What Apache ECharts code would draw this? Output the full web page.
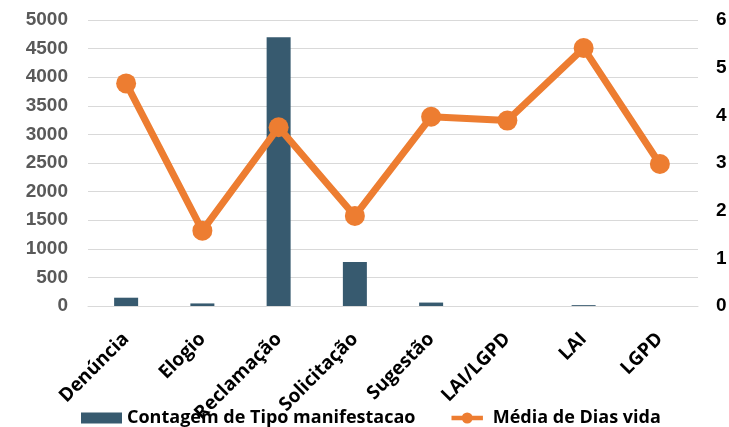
<!DOCTYPE html>
<html>
<head>
<meta charset="utf-8">
<script src="https://cdn.jsdelivr.net/npm/echarts@6/dist/echarts.min.js"></script>
<style>html,body{margin:0;padding:0;background:#fff}#c{width:729px;height:427px}</style>
</head>
<body>
<div id="c"></div>
<script>
const categories = ['Denúncia','Elogio','Reclamação','Solicitação','Sugestão','LAI/LGPD','LAI','LGPD'];
const contagem = [145, 45, 4700, 770, 60, 0, 15, 0];
const mediaDias = [4.67, 1.58, 3.75, 1.89, 3.97, 3.89, 5.41, 2.98];
const leftTicks = {min: 0, max: 5000, interval: 500};
const rightTicks = {min: 0, max: 6, interval: 1};

const lineIcon = 'path://M0,3H40V9H0Z M13,6A7,7 0 1,1 27,6A7,7 0 1,1 13,6Z';

const chart = echarts.init(document.getElementById('c'));
chart.setOption({
  animation: false,
  grid: {left: 88, right: 31, top: 20, bottom: 121, containLabel: false, outerBoundsMode: 'none'},
  legend: {
    left: 76, top: 404, itemGap: 36, itemWidth: 41, itemHeight: 11,
    textStyle: {fontFamily: 'Open Sans', fontWeight: 'bold', fontSize: 18, color: '#000'},
    data: [
      {name: 'Contagem de Tipo manifestacao', icon: 'rect'},
      {name: 'Média de Dias vida', icon: lineIcon, itemStyle: {color: '#ED7D31'}}
    ]
  },
  xAxis: {
    type: 'category', data: categories,
    axisLine: {lineStyle: {color: '#d9d9d9', width: 1}},
    axisTick: {show: false},
    axisLabel: {interval: 0, rotate: 45, margin: 30, fontFamily: 'Open Sans', fontWeight: 'bold', fontSize: 19, color: '#000', hideOverlap: false}
  },
  yAxis: [
    {type: 'value', min: leftTicks.min, max: leftTicks.max, interval: leftTicks.interval,
     splitLine: {lineStyle: {color: '#d9d9d9', width: 1}},
     axisLine: {show: false}, axisTick: {show: false},
     axisLabel: {margin: 20, formatter: v => String(v), fontFamily: 'Liberation Sans', fontWeight: 'bold', fontSize: 19, color: '#595959'}},
    {type: 'value', min: rightTicks.min, max: rightTicks.max, interval: rightTicks.interval,
     splitLine: {show: false}, axisLine: {show: false}, axisTick: {show: false},
     axisLabel: {margin: 18, fontFamily: 'Liberation Sans', fontWeight: 'bold', fontSize: 19, color: '#000'}}
  ],
  series: [
    {name: 'Contagem de Tipo manifestacao', type: 'bar', data: contagem, barWidth: 24,
     itemStyle: {color: '#375A6F'}},
    {name: 'Média de Dias vida', type: 'line', yAxisIndex: 1, data: mediaDias,
     symbol: 'circle', symbolSize: 20,
     lineStyle: {color: '#ED7D31', width: 7}, itemStyle: {color: '#ED7D31'}}
  ]
});
</script>
</body>
</html>
